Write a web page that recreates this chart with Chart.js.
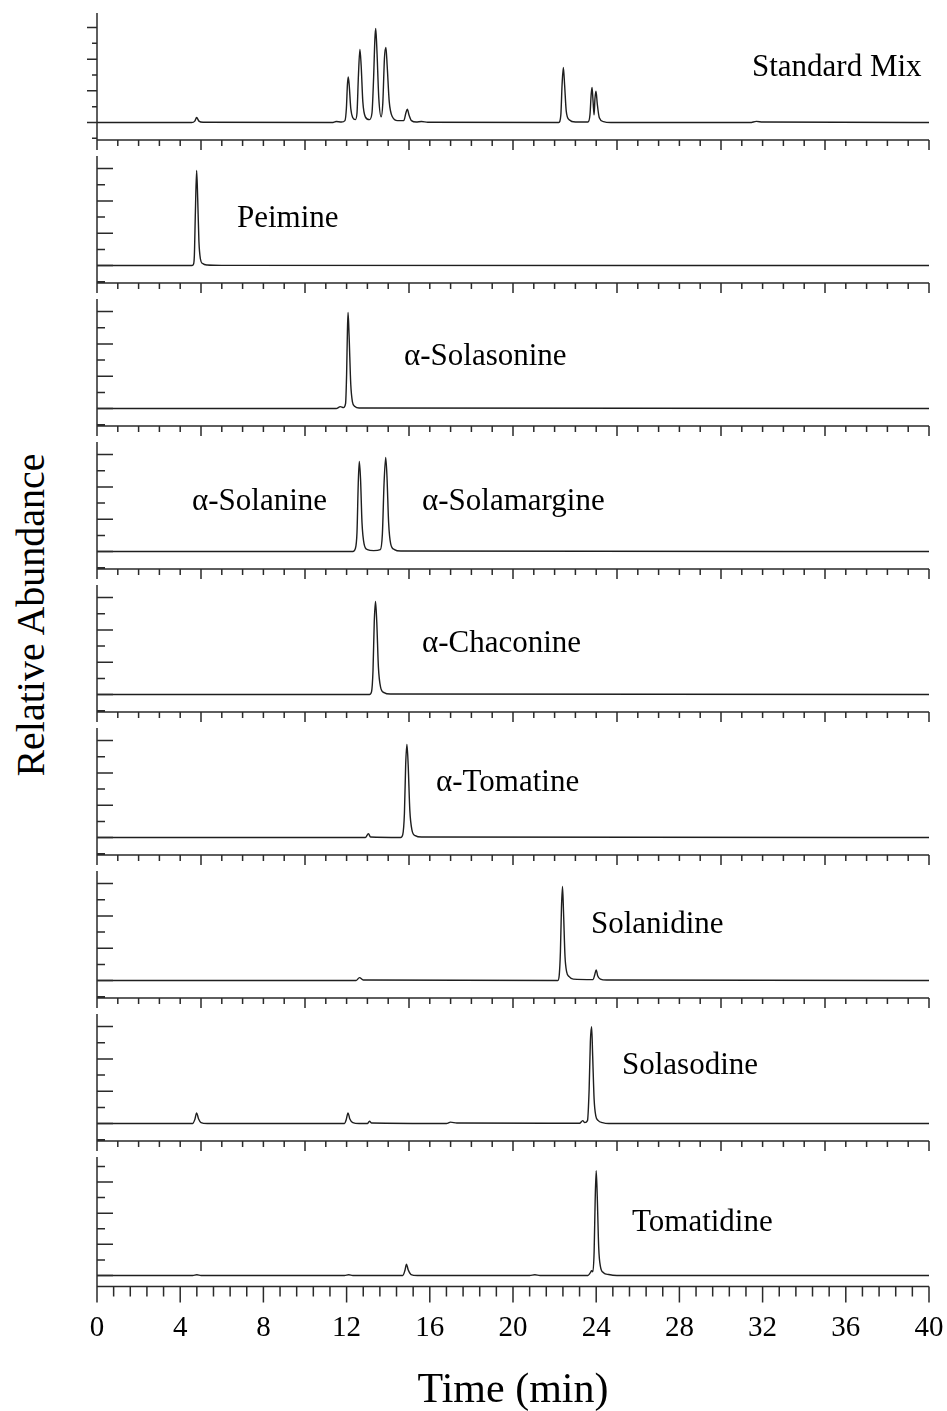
<!DOCTYPE html>
<html>
<head>
<meta charset="utf-8">
<script src="https://cdn.jsdelivr.net/npm/chart.js@4.4.1/dist/chart.umd.min.js"></script>
<style>
  html, body { margin: 0; padding: 0; background: #fff; overflow: hidden; }
  #page { position: relative; width: 947px; height: 1411px; }
  #page canvas { position: absolute; left: 0; }
  #yTitle {
    position: absolute; left: 30px; top: 615px;
    transform: translate(-50%, -50%) rotate(-90deg);
    font-family: 'Liberation Serif', 'Times New Roman', serif;
    font-size: 40px; white-space: nowrap; color: #000;
  }
</style>
</head>
<body>
<div id="page"><div id="yTitle">Relative Abundance</div></div>
<script>
// Trazas: [tiempo (min), abundancia relativa]
const standardMix = [[0,0],[4.55,0],[4.7,1.5],[4.79,5.3],[4.9,1.5],[5.1,0.3],[11.3,0],[11.5,1],[11.75,0.5],
  [11.92,2],[11.99,15],[12.04,40],[12.08,48],[12.13,38],[12.2,15],[12.3,5],[12.42,3],[12.5,10],[12.57,50],
  [12.64,77],[12.7,60],[12.78,22],[12.9,6],[13.1,3],[13.22,10],[13.3,48],[13.36,88],[13.4,99],[13.45,80],
  [13.55,25],[13.66,6],[13.74,20],[13.82,68],[13.89,79],[13.95,60],[14.05,22],[14.2,6],[14.45,2],[14.75,2],
  [14.85,10],[14.92,14],[15.0,8],[15.12,2],[15.35,0.5],[15.6,1],[15.9,0.3],[22.2,0],[22.3,8],[22.36,40],
  [22.42,58],[22.48,40],[22.56,12],[22.7,3],[23.0,0.5],[23.6,0.5],[23.7,8],[23.76,30],[23.8,37],[23.85,22],
  [23.9,8],[23.94,25],[23.99,33],[24.05,20],[24.15,5],[24.35,1],[24.7,0],[31.4,0],[31.7,1.2],[32.0,0.5],[40,0]];
const peimine = [[0,0],[4.55,0],[4.63,1],[4.68,10],[4.73,55],[4.79,98],[4.84,70],[4.9,25],[4.97,7],
  [5.08,2],[5.3,0.5],[6,0.2],[40,0]];
const solasonine = [[0,0],[11.5,0],[11.7,2],[11.85,1],[11.95,5],[12.0,35],[12.04,80],[12.07,99],[12.12,75],
  [12.2,25],[12.28,7],[12.4,2],[12.6,0.5],[40,0]];
const solanineSolamargine = [[0,0],[12.3,0],[12.42,3],[12.5,20],[12.56,70],[12.61,93],[12.67,75],[12.74,30],
  [12.84,8],[13.0,2],[13.3,1],[13.62,2],[13.72,18],[13.8,70],[13.88,97],[13.94,78],[14.02,30],[14.12,8],
  [14.3,2],[14.6,0.5],[40,0]];
const chaconine = [[0,0],[13.1,0],[13.2,3],[13.27,25],[13.33,75],[13.39,96],[13.45,75],[13.53,28],[13.63,8],
  [13.8,2],[14.1,0.5],[40,0]];
const tomatine = [[0,0],[12.9,0],[13.05,4],[13.15,0.5],[14.6,0],[14.7,3],[14.78,25],[14.84,75],[14.9,96],
  [14.96,75],[15.04,28],[15.14,8],[15.3,2],[15.6,0.5],[40,0]];
const solanidine = [[0,0],[12.45,0],[12.62,3],[12.8,0.5],[22.15,0],[22.22,5],[22.28,30],[22.33,75],[22.38,97],
  [22.43,70],[22.5,25],[22.58,9],[22.7,4],[22.9,1.5],[23.85,1],[23.93,6],[24.0,11],[24.07,5],[24.2,1.5],
  [24.5,0.5],[40,0]];
const solasodine = [[0,0],[4.6,0],[4.7,4],[4.79,11],[4.88,5],[5.0,1],[5.3,0],[11.9,0],[11.98,4],[12.07,11],
  [12.15,5],[12.3,1],[12.6,0],[13.0,0],[13.1,2.5],[13.2,0.5],[16.8,0],[17.0,1.5],[17.3,0.5],[23.2,0.3],
  [23.35,3],[23.45,1],[23.58,3],[23.66,35],[23.72,85],[23.78,100],[23.83,70],[23.9,25],[23.98,8],[24.1,3],
  [24.3,1],[24.6,0],[40,0]];
const tomatidine = [[0,0],[4.6,0],[4.8,0.8],[5.0,0],[11.9,0],[12.1,0.8],[12.3,0],[14.7,0],[14.8,5],[14.88,12],
  [14.96,6],[15.1,1],[15.4,0],[20.8,0],[21.05,0.8],[21.3,0],[23.6,0],[23.72,3],[23.78,5],[23.84,4],[23.9,25],
  [23.95,80],[24.0,112],[24.05,85],[24.12,30],[24.2,10],[24.35,3],[24.6,1],[25.0,0],[40,0]];

const timeTickLabels = ['0', '4', '8', '12', '16', '20', '24', '28', '32', '36', '40'];
const yMajorTicks = [0, 100 / 3, 200 / 3, 100];
const yMinorTicks = [-50 / 3, 50 / 3, 50, 250 / 3, 350 / 3];

// Paneles: traza, etiquetas (posición en px de la página) y rango vertical
const PANEL_STEP = 143;
const panels = [
  { trace: standardMix, labels: [['Standard Mix', 752, 76]], yMin: -18.4, yMax: 115.3, ticksOut: true },
  { trace: peimine, labels: [['Peimine', 237, 227]], yMin: -18, yMax: 113 },
  { trace: solasonine, labels: [['α-Solasonine', 404, 365]], yMin: -18, yMax: 113 },
  { trace: solanineSolamargine, labels: [['α-Solanine', 192, 510], ['α-Solamargine', 422, 510]], yMin: -18, yMax: 113 },
  { trace: chaconine, labels: [['α-Chaconine', 422, 652]], yMin: -18, yMax: 113 },
  { trace: tomatine, labels: [['α-Tomatine', 436, 791]], yMin: -18, yMax: 113 },
  { trace: solanidine, labels: [['Solanidine', 591, 933]], yMin: -18, yMax: 113 },
  { trace: solasodine, labels: [['Solasodine', 622, 1074]], yMin: -18, yMax: 113 },
  { trace: tomatidine, labels: [['Tomatidine', 632, 1231]], yMin: -11.8, yMax: 126.7 }
];

const FONT = "'Liberation Serif', 'Times New Roman', serif";

function crearPanel(panel, i) {
  const ultimo = i === panels.length - 1;
  const top = i * PANEL_STEP;
  const canvas = document.createElement('canvas');
  canvas.width = 947;
  canvas.height = ultimo ? 272 : 160;
  canvas.style.top = top + 'px';
  document.getElementById('page').appendChild(canvas);

  // Ejes, marcas y etiquetas del panel
  const ejesPanel = {
    id: 'ejesPanel',
    afterDraw(chart) {
      const { ctx, chartArea: a, scales: { x, y } } = chart;
      ctx.save();
      ctx.strokeStyle = '#2a2a2a';
      ctx.lineWidth = 1.5;
      ctx.beginPath();
      ctx.moveTo(a.left, a.top);
      ctx.lineTo(a.left, a.bottom);
      ctx.lineTo(a.right, a.bottom);

      // marcas del eje x
      const paso = ultimo ? 0.8 : 1;
      const n = Math.round(40 / paso);
      for (let k = 0; k <= n; k++) {
        const px = x.getPixelForValue(k * paso);
        const mayor = k % 5 === 0;
        const len = ultimo ? (mayor ? 16 : 10) : (mayor ? 10 : 6);
        ctx.moveTo(px, a.bottom);
        ctx.lineTo(px, a.bottom + len);
      }

      // marcas del eje y
      const dir = panel.ticksOut ? -1 : 1;
      const lenMayor = panel.ticksOut ? 10 : 16;
      const lenMenor = panel.ticksOut ? 5 : 8;
      yMajorTicks.concat(yMinorTicks).forEach((v) => {
        if (v < panel.yMin || v > panel.yMax) return;
        const py = y.getPixelForValue(v);
        const len = yMajorTicks.includes(v) ? lenMayor : lenMenor;
        ctx.moveTo(a.left, py);
        ctx.lineTo(a.left + dir * len, py);
      });
      ctx.stroke();

      ctx.fillStyle = '#000';
      ctx.font = '31px ' + FONT;
      ctx.textBaseline = 'alphabetic';
      ctx.textAlign = 'left';
      panel.labels.forEach(([texto, lx, ly]) => ctx.fillText(texto, lx, ly - top));
      ctx.restore();
    }
  };

  new Chart(canvas, {
    type: 'line',
    data: {
      datasets: [{
        data: panel.trace.map(p => ({ x: p[0], y: p[1] })),
        borderColor: '#1e1e1e',
        borderWidth: 1.4,
        pointRadius: 0,
        cubicInterpolationMode: 'monotone',
        fill: false
      }]
    },
    options: {
      responsive: false,
      animation: false,
      events: [],
      layout: { padding: { left: 97, right: 18, top: 13, bottom: ultimo ? 0 : 20 } },
      plugins: { legend: { display: false }, tooltip: { enabled: false } },
      scales: {
        x: {
          type: 'linear', min: 0, max: 40,
          display: ultimo,
          grid: { display: false, drawTicks: false },
          border: { display: false },
          afterFit: (scale) => { scale.paddingLeft = 0; scale.paddingRight = 0; },
          ticks: {
            stepSize: 4, autoSkip: false, maxRotation: 0, padding: 24, color: '#000',
            font: { family: FONT, size: 29 },
            callback: (v, idx) => timeTickLabels[idx]
          },
          title: {
            display: true, text: 'Time (min)', color: '#000',
            font: { family: FONT, size: 42 },
            padding: { top: 26, bottom: 0 }
          }
        },
        y: { type: 'linear', min: panel.yMin, max: panel.yMax, display: false }
      }
    },
    plugins: [ejesPanel]
  });
}

document.addEventListener('DOMContentLoaded', function () {
  panels.forEach(crearPanel);
});
</script>
</body>
</html>
